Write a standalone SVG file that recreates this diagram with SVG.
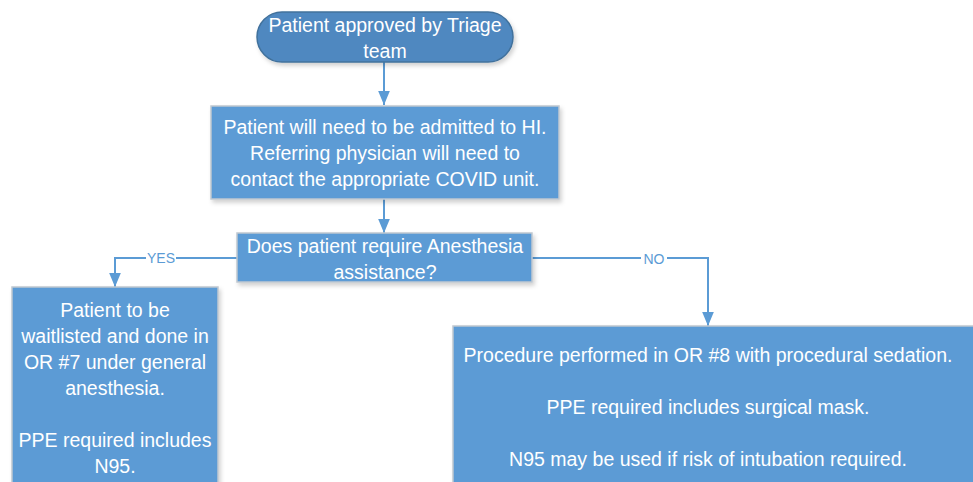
<svg xmlns="http://www.w3.org/2000/svg" width="973" height="482" viewBox="0 0 973 482">
<style>
.box{fill:#5B9BD5;stroke:#BFC7D0;stroke-width:1.5}
.term{fill:#4F88C0;stroke:#41719C;stroke-width:1.5}
.t{font-family:"Liberation Sans",Arial,sans-serif;font-size:19.5px;fill:#FFFFFF;text-anchor:middle}
.lbl{font-family:"Liberation Sans",Arial,sans-serif;font-size:14px;fill:#5B9BD5;text-anchor:middle}
.c{fill:none;stroke:#5B9BD5;stroke-width:2}
</style>
<defs>
<filter id="sh" x="-10%" y="-10%" width="130%" height="140%">
<feDropShadow dx="2" dy="3" stdDeviation="2" flood-color="#000000" flood-opacity="0.18"/>
</filter>
<marker id="arb" viewBox="0 0 12 10" refX="12" refY="5" markerWidth="14" markerHeight="14" markerUnits="userSpaceOnUse" orient="auto">
<path d="M0,0 L12,5 L0,10 z" fill="#5B9BD5"/>
</marker>
</defs>
<g id="connectors">
<path class="c" d="M384,62 V105" marker-end="url(#arb)"/>
<path class="c" d="M384,199 V233" marker-end="url(#arb)"/>
<path class="c" d="M237,258 H115 V287" marker-end="url(#arb)"/>
<path class="c" d="M532,258 H708 V326" marker-end="url(#arb)"/>
<rect x="146" y="250" width="30" height="16" fill="#FFFFFF"/>
<text class="lbl" x="161" y="263">YES</text>
<rect x="641" y="250" width="26" height="16" fill="#FFFFFF"/>
<text class="lbl" x="654" y="264">NO</text>
</g>
<g id="start">
<rect class="term" x="257" y="12" width="256" height="50" rx="25" ry="25" filter="url(#sh)"/>
<text class="t" x="385" y="32">Patient approved by Triage</text>
<text class="t" x="385" y="58">team</text>
</g>
<g id="admit">
<rect class="box" x="211" y="106" width="348" height="93" filter="url(#sh)"/>
<text class="t" x="385" y="134">Patient will need to be admitted to HI.</text>
<text class="t" x="385" y="160">Referring physician will need to</text>
<text class="t" x="385" y="186">contact the appropriate COVID unit.</text>
</g>
<g id="decision">
<rect class="box" x="237" y="233" width="295" height="49" filter="url(#sh)"/>
<text class="t" x="385" y="253">Does patient require Anesthesia</text>
<text class="t" x="385" y="279">assistance?</text>
</g>
<g id="yes-box">
<rect class="box" x="12" y="287" width="206" height="210" filter="url(#sh)"/>
<text class="t" x="115" y="317">Patient to be</text>
<text class="t" x="115" y="343">waitlisted and done in</text>
<text class="t" x="115" y="369">OR #7 under general</text>
<text class="t" x="115" y="395">anesthesia.</text>
<text class="t" x="115" y="447">PPE required includes</text>
<text class="t" x="115" y="473">N95.</text>
</g>
<g id="no-box">
<rect class="box" x="453" y="326" width="540" height="180" filter="url(#sh)"/>
<text class="t" x="708" y="362">Procedure performed in OR #8 with procedural sedation.</text>
<text class="t" x="708" y="414">PPE required includes surgical mask.</text>
<text class="t" x="708" y="466">N95 may be used if risk of intubation required.</text>
</g>
</svg>
